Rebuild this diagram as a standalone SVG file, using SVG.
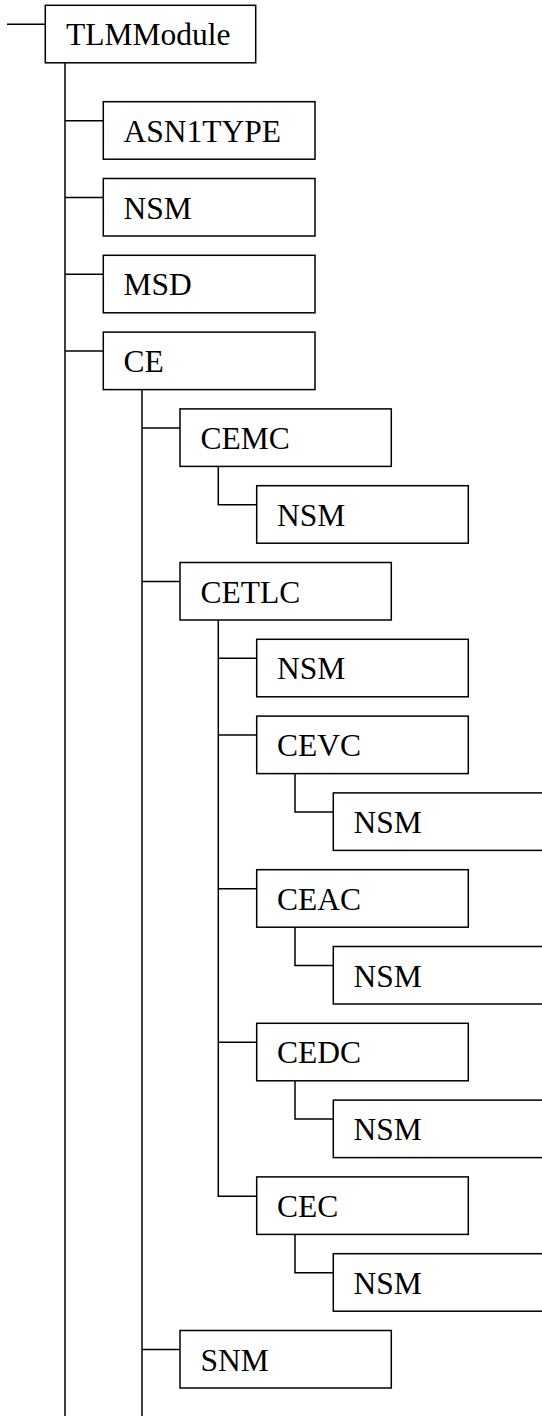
<svg xmlns="http://www.w3.org/2000/svg" width="542" height="1416" viewBox="0 0 542 1416">
  <style>
    .box { fill: #ffffff; stroke: #000000; stroke-width: 1.5; }
    .lbl { font-family: "Liberation Serif", "Times New Roman", serif; font-size: 31.5px; fill: #000000; }
    .wire { fill: none; stroke: #000000; stroke-width: 1.5; }
  </style>
  <rect width="542" height="1416" fill="#ffffff"/>

  <!-- tree connectors -->
  <g id="connectors" class="wire">
    <!-- root stub -->
    <path d="M7 24.3 H45.3"/>
    <!-- TLMModule trunk and its branches -->
    <path d="M65 63 V1416"/>
    <path d="M65 120.7 H103.3"/>
    <path d="M65 197.5 H103.3"/>
    <path d="M65 274.3 H103.3"/>
    <path d="M65 351.1 H103.3"/>
    <!-- CE trunk -->
    <path d="M142 389.3 V1416"/>
    <path d="M142 427.9 H180"/>
    <path d="M142 581.5 H180"/>
    <path d="M142 1349.5 H180"/>
    <!-- CEMC -> NSM -->
    <path d="M218.3 466.5 V504.7 H256.7"/>
    <!-- CETLC trunk -->
    <path d="M218.3 620 V1196.2 H256.7"/>
    <path d="M218.3 658.3 H256.7"/>
    <path d="M218.3 735.1 H256.7"/>
    <path d="M218.3 888.7 H256.7"/>
    <path d="M218.3 1042.3 H256.7"/>
    <!-- leaf elbows -->
    <path d="M295 773.6 V811.9 H333.3"/>
    <path d="M295 927.2 V965.5 H333.3"/>
    <path d="M295 1080.8 V1119.1 H333.3"/>
    <path d="M295 1234.4 V1272.7 H333.3"/>
  </g>

  <g id="n-tlmmodule"><rect class="box" x="45.3" y="5.3" width="210.4" height="57.5"/><text class="lbl" x="66" y="45.3">TLMModule</text></g>
  <g id="n-asn1type"><rect class="box" x="103.3" y="101.7" width="211.7" height="57.5"/><text class="lbl" x="123.5" y="141.7">ASN1TYPE</text></g>
  <g id="n-nsm-1"><rect class="box" x="103.3" y="178.5" width="211.7" height="57.5"/><text class="lbl" x="123.5" y="218.5">NSM</text></g>
  <g id="n-msd"><rect class="box" x="103.3" y="255.3" width="211.7" height="57.5"/><text class="lbl" x="123.5" y="295.3">MSD</text></g>
  <g id="n-ce"><rect class="box" x="103.3" y="332.1" width="211.7" height="57.5"/><text class="lbl" x="123.5" y="372.1">CE</text></g>
  <g id="n-cemc"><rect class="box" x="180" y="408.9" width="211.3" height="57.5"/><text class="lbl" x="200.5" y="448.9">CEMC</text></g>
  <g id="n-cemc-nsm"><rect class="box" x="256.7" y="485.7" width="211.6" height="57.5"/><text class="lbl" x="277" y="525.7">NSM</text></g>
  <g id="n-cetlc"><rect class="box" x="180" y="562.5" width="211.3" height="57.5"/><text class="lbl" x="200.5" y="602.5">CETLC</text></g>
  <g id="n-cetlc-nsm"><rect class="box" x="256.7" y="639.3" width="211.6" height="57.5"/><text class="lbl" x="277" y="679.3">NSM</text></g>
  <g id="n-cevc"><rect class="box" x="256.7" y="716.1" width="211.6" height="57.5"/><text class="lbl" x="277" y="756.1">CEVC</text></g>
  <g id="n-cevc-nsm"><rect class="box" x="333.3" y="792.9" width="220" height="57.5"/><text class="lbl" x="353.5" y="832.9">NSM</text></g>
  <g id="n-ceac"><rect class="box" x="256.7" y="869.7" width="211.6" height="57.5"/><text class="lbl" x="277" y="909.7">CEAC</text></g>
  <g id="n-ceac-nsm"><rect class="box" x="333.3" y="946.5" width="220" height="57.5"/><text class="lbl" x="353.5" y="986.5">NSM</text></g>
  <g id="n-cedc"><rect class="box" x="256.7" y="1023.3" width="211.6" height="57.5"/><text class="lbl" x="277" y="1063.3">CEDC</text></g>
  <g id="n-cedc-nsm"><rect class="box" x="333.3" y="1100.1" width="220" height="57.5"/><text class="lbl" x="353.5" y="1140.1">NSM</text></g>
  <g id="n-cec"><rect class="box" x="256.7" y="1176.9" width="211.6" height="57.5"/><text class="lbl" x="277" y="1216.9">CEC</text></g>
  <g id="n-cec-nsm"><rect class="box" x="333.3" y="1253.7" width="220" height="57.5"/><text class="lbl" x="353.5" y="1293.7">NSM</text></g>
  <g id="n-snm"><rect class="box" x="180" y="1330.5" width="211.3" height="57.5"/><text class="lbl" x="200.5" y="1370.5">SNM</text></g>
</svg>
